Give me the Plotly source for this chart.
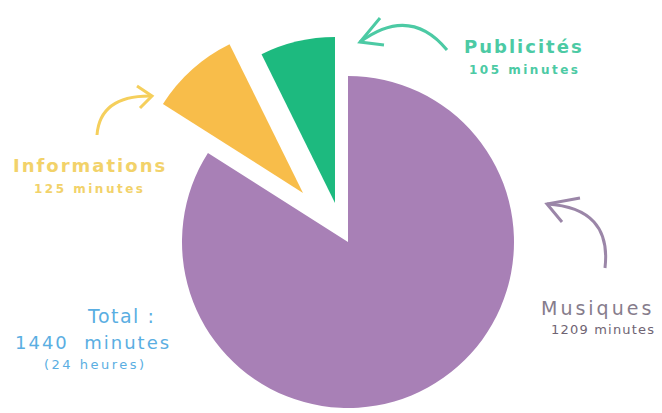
import plotly.graph_objects as go

OFF = 8  # page body margin
W, H = 662 - OFF, 413 - OFF

labels = ["Musiques", "Informations", "Publicités"]
minutes = [1209, 125, 105]
colors = ["#a880b6", "#f8bd4a", "#1dba7f"]
label_colors = ["#867c8c", "#f2d26a", "#4ccaa4"]
total_minutes = 1440
total_hours = 24


def px(x):
    return (x - OFF) / W


def py(y):
    return 1 - (y - OFF) / H


def dom(cx, cy, r):
    return dict(x=[px(cx - r), px(cx + r)], y=[py(cy + r), py(cy - r)])


R = 166
centers = [(348, 242), (303, 193), (335, 203)]

fig = go.Figure()
for i in range(3):
    cols = [colors[j] if j == i else "rgba(0,0,0,0)" for j in range(3)]
    fig.add_trace(go.Pie(
        labels=labels, values=minutes, sort=False, direction="clockwise", rotation=0,
        marker=dict(colors=cols, line=dict(width=0)), textinfo="none", hoverinfo="label+value",
        domain=dom(centers[i][0], centers[i][1], R), showlegend=False,
    ))

font = "DejaVu Sans"


def sp(text, ls, bold=False):
    t = f'<span style="letter-spacing:{ls}px">{text}</span>'
    return f"<b>{t}</b>" if bold else t


ann = [
    (524, 46, sp(labels[2], 2, True), label_colors[2], 18),
    (524, 70, sp(f"{minutes[2]} minutes", 2.5, True), label_colors[2], 12),
    (90, 165, sp(labels[1], 2, True), label_colors[1], 18),
    (90, 189, sp(f"{minutes[1]} minutes", 2.5, True), label_colors[1], 12),
    (597, 308, sp(labels[0], 3), label_colors[0], 19),
    (603, 329, sp(f"{minutes[0]} minutes", 1.2), "#6f6473", 13),
    (121, 316, sp("Total :", 1.5), "#5aaee2", 19),
    (93, 342, sp(f"{total_minutes}  minutes", 2), "#5aaee2", 18),
    (95, 364, sp(f"({total_hours} heures)", 2.5), "#5aaee2", 13),
]
for x, y, t, c, s in ann:
    fig.add_annotation(x=px(x), y=py(y), xref="paper", yref="paper", text=t, showarrow=False,
                       font=dict(family=font, size=s, color=c), xanchor="center", yanchor="middle")


def path(pts, cmd):
    s = ""
    for c, (x, y) in zip(cmd, pts):
        s += f"{c} {px(x):.5f},{py(y):.5f} "
    return s.strip()


arrows = [
    # (start, control, tip, head1, head2, color)
    ((447, 50), (410, 5), (360, 42), (380, 18), (384, 45), "#4ccaa4"),
    ((605, 268), (612, 208), (547, 204), (580, 198), (562, 222), "#9b86a8"),
    ((97, 135), (100, 95), (152, 96), (137, 86), (140, 108), "#f5cf5c"),
]
for s0, c0, tip, h1, h2, col in arrows:
    fig.add_shape(type="path", xref="paper", yref="paper",
                  path=path([s0, c0, tip], ["M", "Q", ""]),
                  line=dict(color=col, width=3))
    fig.add_shape(type="path", xref="paper", yref="paper",
                  path=path([h1, tip, h2], ["M", "L", "L"]),
                  line=dict(color=col, width=3))

fig.update_layout(width=W, height=H, margin=dict(l=0, r=0, t=0, b=0),
                  paper_bgcolor="white", plot_bgcolor="white")
fig.write_html("out.html")
